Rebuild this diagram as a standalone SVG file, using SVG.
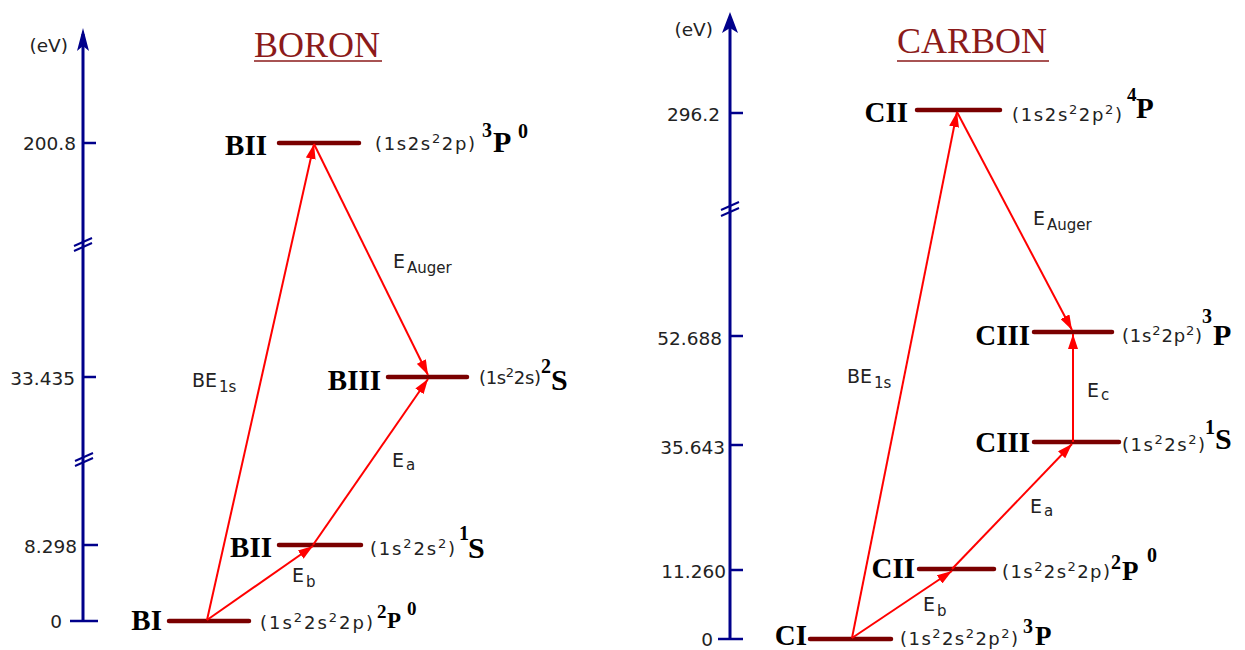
<svg xmlns="http://www.w3.org/2000/svg" width="1245" height="650" viewBox="0 0 1245 650">
<defs>
<style>
.ax{stroke:#00008b;stroke-width:3;fill:none}
.tk{stroke:#00008b;stroke-width:2.5;fill:none}
.brk{stroke:#00008b;stroke-width:2;fill:none}
.lvl{stroke:#7a0000;stroke-width:4.5;stroke-linecap:round}
.tr{stroke:#ff0000;stroke-width:2;fill:none}
.num{font-family:"DejaVu Sans",sans-serif;font-size:18.5px;fill:#222;text-anchor:end}
.cfg{font-family:"DejaVu Sans",sans-serif;font-size:18px;fill:#222}
.lab{font-family:"DejaVu Sans",sans-serif;font-size:19px;fill:#222}
.sub{font-size:15px}
.sup{font-size:13px}
.ion{font-family:"Liberation Serif",serif;font-weight:bold;font-size:29px;fill:#000;text-anchor:end}
.term{font-family:"Liberation Serif",serif;font-weight:bold;fill:#000}
.title{font-family:"Liberation Serif",serif;font-size:36px;fill:#8b1a1a}
.ul{stroke:#8b1a1a;stroke-width:1.6}
</style>
<marker id="ah" markerUnits="userSpaceOnUse" markerWidth="16" markerHeight="10" refX="15" refY="5" orient="auto">
<path d="M0,0 L15,5 L0,10 z" fill="#ff0000"/>
</marker>
</defs>

<!-- BORON axis -->
<g id="boron-axis">
<line class="ax" x1="83" y1="34" x2="83" y2="621"/>
<path d="M83,28 L77,51 L83,46 L89,51 z" fill="#00008b"/>
<line class="tk" x1="83" y1="143" x2="96" y2="143"/>
<line class="tk" x1="83" y1="377" x2="96" y2="377"/>
<line class="tk" x1="83" y1="545" x2="98" y2="545"/>
<line class="tk" x1="70" y1="621" x2="98" y2="621"/>
<line class="brk" x1="74" y1="246" x2="92" y2="238"/>
<line class="brk" x1="74" y1="251" x2="92" y2="243"/>
<line class="brk" x1="75" y1="461" x2="93" y2="453"/>
<line class="brk" x1="75" y1="466" x2="93" y2="458"/>
<text class="num" x="68" y="52">(eV)</text>
<text class="num" x="76" y="150">200.8</text>
<text class="num" x="75" y="385">33.435</text>
<text class="num" x="77" y="553">8.298</text>
<text class="num" x="62" y="628">0</text>
</g>
<g id="boron-title">
<text class="title" x="254" y="57">BORON</text>
<line class="ul" x1="254" y1="61" x2="382" y2="61"/>
</g>

<!-- BORON levels -->
<g id="B-BII-top">
<line class="lvl" x1="279" y1="143" x2="359" y2="143"/>
<text class="ion" x="267" y="155">BII</text>
<text class="cfg" x="375" y="150" textLength="100" lengthAdjust="spacing">(1s2s<tspan class="sup" dy="-7">2</tspan><tspan dy="7">2p)</tspan></text>
<text class="term"><tspan x="482" y="137" font-size="20">3</tspan><tspan x="493" y="152" font-size="30">P</tspan><tspan x="518" y="138" font-size="20">0</tspan></text>
</g>
<g id="B-BIII">
<line class="lvl" x1="388" y1="377" x2="467" y2="377"/>
<text class="ion" x="381" y="390">BIII</text>
<text class="cfg" x="479" y="384" textLength="62" lengthAdjust="spacing">(1s<tspan class="sup" dy="-7">2</tspan><tspan dy="7">2s)</tspan></text>
<text class="term"><tspan x="541" y="373" font-size="20">2</tspan><tspan x="551" y="390" font-size="30">S</tspan></text>
</g>
<g id="B-BII-low">
<line class="lvl" x1="279" y1="545" x2="361" y2="545"/>
<text class="ion" x="272" y="557">BII</text>
<text class="cfg" x="370" y="555" textLength="85" lengthAdjust="spacing">(1s<tspan class="sup" dy="-7">2</tspan><tspan dy="7">2s</tspan><tspan class="sup" dy="-7">2</tspan><tspan dy="7">)</tspan></text>
<text class="term"><tspan x="459" y="540" font-size="20">1</tspan><tspan x="468" y="558" font-size="30">S</tspan></text>
</g>
<g id="B-BI">
<line class="lvl" x1="169" y1="621" x2="249" y2="621"/>
<text class="ion" x="162" y="630">BI</text>
<text class="cfg" x="260" y="629" textLength="113" lengthAdjust="spacing">(1s<tspan class="sup" dy="-7">2</tspan><tspan dy="7">2s</tspan><tspan class="sup" dy="-7">2</tspan><tspan dy="7">2p)</tspan></text>
<text class="term"><tspan x="377" y="618" font-size="19">2</tspan><tspan x="387" y="628" font-size="23">P</tspan><tspan x="407" y="615" font-size="19">0</tspan></text>
</g>

<!-- CARBON axis -->
<g id="carbon-axis">
<line class="ax" x1="730" y1="18" x2="730" y2="640"/>
<path d="M730,12 L722,33 L730,28 L738,33 z" fill="#00008b"/>
<line class="tk" x1="730" y1="113" x2="743" y2="113"/>
<line class="tk" x1="730" y1="336" x2="743" y2="336"/>
<line class="tk" x1="730" y1="445" x2="743" y2="445"/>
<line class="tk" x1="730" y1="570" x2="743" y2="570"/>
<line class="tk" x1="718" y1="639" x2="743" y2="639"/>
<line class="brk" x1="721" y1="210" x2="739" y2="202"/>
<line class="brk" x1="721" y1="216" x2="739" y2="208"/>
<text class="num" x="713" y="36">(eV)</text>
<text class="num" x="720" y="121">296.2</text>
<text class="num" x="722" y="345">52.688</text>
<text class="num" x="725" y="454">35.643</text>
<text class="num" x="726" y="578">11.260</text>
<text class="num" x="713" y="646">0</text>
</g>
<g id="carbon-title">
<text class="title" x="897" y="53">CARBON</text>
<line class="ul" x1="897" y1="61" x2="1049" y2="61"/>
</g>

<!-- CARBON levels -->
<g id="C-CII-top">
<line class="lvl" x1="917" y1="110" x2="1000" y2="110"/>
<text class="ion" x="908" y="122">CII</text>
<text class="cfg" x="1012" y="121" textLength="110" lengthAdjust="spacing">(1s2s<tspan class="sup" dy="-7">2</tspan><tspan dy="7">2p</tspan><tspan class="sup" dy="-7">2</tspan><tspan dy="7">)</tspan></text>
<text class="term"><tspan x="1127" y="101" font-size="19">4</tspan><tspan x="1136" y="118" font-size="29">P</tspan></text>
</g>
<g id="C-CIII-up">
<line class="lvl" x1="1034" y1="332" x2="1112" y2="332"/>
<text class="ion" x="1030" y="345">CIII</text>
<text class="cfg" x="1122" y="342" textLength="80" lengthAdjust="spacing">(1s<tspan class="sup" dy="-7">2</tspan><tspan dy="7">2p</tspan><tspan class="sup" dy="-7">2</tspan><tspan dy="7">)</tspan></text>
<text class="term"><tspan x="1202" y="323" font-size="20">3</tspan><tspan x="1213" y="345" font-size="30">P</tspan></text>
</g>
<g id="C-CIII-low">
<line class="lvl" x1="1034" y1="442" x2="1119" y2="442"/>
<text class="ion" x="1030" y="452">CIII</text>
<text class="cfg" x="1122" y="451" textLength="83" lengthAdjust="spacing">(1s<tspan class="sup" dy="-7">2</tspan><tspan dy="7">2s</tspan><tspan class="sup" dy="-7">2</tspan><tspan dy="7">)</tspan></text>
<text class="term"><tspan x="1205" y="434" font-size="20">1</tspan><tspan x="1215" y="449" font-size="30">S</tspan></text>
</g>
<g id="C-CII-mid">
<line class="lvl" x1="919" y1="569" x2="994" y2="569"/>
<text class="ion" x="915" y="578">CII</text>
<text class="cfg" x="1002" y="578" textLength="108" lengthAdjust="spacing">(1s<tspan class="sup" dy="-7">2</tspan><tspan dy="7">2s</tspan><tspan class="sup" dy="-7">2</tspan><tspan dy="7">2p)</tspan></text>
<text class="term"><tspan x="1111" y="569" font-size="20">2</tspan><tspan x="1122" y="580" font-size="27">P</tspan><tspan x="1147" y="562" font-size="20">0</tspan></text>
</g>
<g id="C-CI">
<line class="lvl" x1="810" y1="639" x2="891" y2="639"/>
<text class="ion" x="807" y="645">CI</text>
<text class="cfg" x="900" y="645" textLength="118" lengthAdjust="spacing">(1s<tspan class="sup" dy="-7">2</tspan><tspan dy="7">2s</tspan><tspan class="sup" dy="-7">2</tspan><tspan dy="7">2p</tspan><tspan class="sup" dy="-7">2</tspan><tspan dy="7">)</tspan></text>
<text class="term"><tspan x="1023" y="633" font-size="20">3</tspan><tspan x="1035" y="645" font-size="27">P</tspan></text>
</g>

<!-- connectors -->
<g id="connectors">
<line class="tr" x1="207" y1="620" x2="314" y2="144" marker-end="url(#ah)"/>
<line class="tr" x1="207" y1="620" x2="313" y2="546" marker-end="url(#ah)"/>
<line class="tr" x1="313" y1="545" x2="428" y2="379" marker-end="url(#ah)"/>
<line class="tr" x1="314" y1="144" x2="428" y2="375" marker-end="url(#ah)"/>
<line class="tr" x1="852" y1="638" x2="957" y2="112" marker-end="url(#ah)"/>
<line class="tr" x1="852" y1="638" x2="952" y2="571" marker-end="url(#ah)"/>
<line class="tr" x1="952" y1="569" x2="1072" y2="444" marker-end="url(#ah)"/>
<line class="tr" x1="957" y1="112" x2="1072" y2="330" marker-end="url(#ah)"/>
<line class="tr" x1="1073" y1="442" x2="1073" y2="334" marker-end="url(#ah)"/>
</g>

<!-- connector labels -->
<g id="connector-labels">
<text class="lab" x="192" y="387">BE<tspan class="sub" dx="2" dy="5">1s</tspan></text>
<text class="lab" x="393" y="268">E<tspan class="sub" dx="2" dy="5">Auger</tspan></text>
<text class="lab" x="392" y="467">E<tspan class="sub" dx="2" dy="3">a</tspan></text>
<text class="lab" x="292" y="582">E<tspan class="sub" dx="2" dy="5">b</tspan></text>
<text class="lab" x="847" y="383">BE<tspan class="sub" dx="2" dy="5">1s</tspan></text>
<text class="lab" x="1033" y="225">E<tspan class="sub" dx="2" dy="5">Auger</tspan></text>
<text class="lab" x="1030" y="513">E<tspan class="sub" dx="2" dy="3">a</tspan></text>
<text class="lab" x="923" y="611">E<tspan class="sub" dx="2" dy="5">b</tspan></text>
<text class="lab" x="1087" y="397">E<tspan class="sub" dx="2" dy="3">c</tspan></text>
</g>
</svg>
